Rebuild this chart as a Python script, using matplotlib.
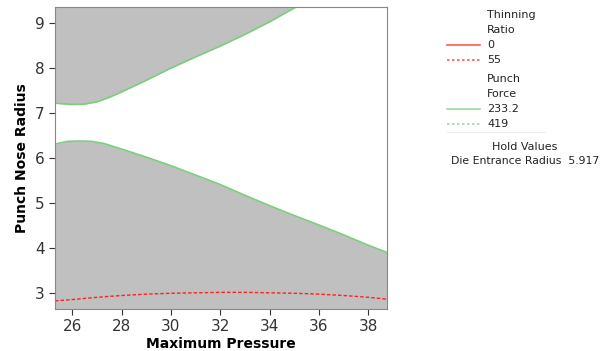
import matplotlib
matplotlib.use('Agg')
import matplotlib.pyplot as plt
from matplotlib.lines import Line2D

# contour boundaries
upper_x = [25.3, 26.0, 26.5, 27.0, 27.5, 28.0, 29.0, 30.0, 31.0, 32.0, 33.0, 34.0, 35.07]
upper_y = [7.22, 7.19, 7.20, 7.25, 7.35, 7.47, 7.73, 8.00, 8.25, 8.49, 8.75, 9.03, 9.36]

lower_x = [25.3, 25.8, 26.3, 26.8, 27.3, 28.0, 29.0, 30.0, 31.0, 32.0, 33.0, 34.0, 35.0, 36.0, 37.0, 38.0, 38.75]
lower_y = [6.31, 6.37, 6.38, 6.37, 6.32, 6.20, 6.02, 5.83, 5.62, 5.41, 5.17, 4.94, 4.72, 4.51, 4.29, 4.06, 3.90]

red_x = [25.3, 26.0, 27.0, 28.0, 29.0, 30.0, 31.0, 32.0, 33.0, 34.0, 35.0, 36.0, 37.0, 38.0, 38.75]
red_y = [2.82, 2.85, 2.90, 2.94, 2.97, 2.99, 3.00, 3.01, 3.01, 3.00, 2.99, 2.97, 2.94, 2.90, 2.86]

xlim = (25.3, 38.76)
ylim = (2.64, 9.36)
xticks = [26, 28, 30, 32, 34, 36, 38]
yticks = [3, 4, 5, 6, 7, 8, 9]

legend_groups = [(["Thinning", "Ratio"], ["0", "55"]), (["Punch", "Force"], ["233.2", "419"])]
hold_name = "Die Entrance Radius"
hold_value = "5.917"

gray = '#c0c0c0'
green = '#7ccf7c'
red = '#ff2020'

fig = plt.figure(figsize=(6.06, 3.51), dpi=100)
ax = fig.add_axes([0.0908, 0.1197, 0.5478, 0.8603])

ax.fill_between(upper_x, upper_y, ylim[1], color=gray, lw=0)
ax.plot(upper_x, upper_y, color=green, lw=1.2)
ax.fill_between(lower_x, ylim[0], lower_y, color=gray, lw=0)
ax.plot(lower_x, lower_y, color=green, lw=1.2)
ax.plot(red_x, red_y, color=red, lw=1.0, ls=(0, (2.5, 1.5)))

ax.set_xlim(*xlim)
ax.set_ylim(*ylim)
ax.set_xticks(xticks)
ax.set_yticks(yticks)
ax.tick_params(labelsize=11, colors='#333333', length=4, width=0.8)
for s in ax.spines.values():
    s.set_color('#888888')
    s.set_linewidth(0.8)

ax.set_xlabel("Maximum Pressure", fontsize=10, fontweight='bold', labelpad=2)
ax.set_ylabel("Punch Nose Radius", fontsize=10, fontweight='bold', labelpad=4)

# legend drawn by hand
W, H = 606.0, 351.0
tx = 487 / W
lx0, lx1 = 447 / W, 480 / W
colors = [red, green]
y = 15
for (title, vals), c in zip(legend_groups, colors):
    for t in title:
        fig.text(tx, 1 - y / H, t, fontsize=8, va='center', color='#222222')
        y += 15
    for i, v in enumerate(vals):
        ls = '-' if i == 0 else (0, (1.5, 1.5))
        fig.add_artist(Line2D([lx0, lx1], [1 - y / H, 1 - y / H], color=c, lw=1.2, ls=ls, alpha=0.75))
        fig.text(tx, 1 - y / H, v, fontsize=8, va='center', color='#222222')
        y += 15
    y += 4

fig.add_artist(Line2D([447 / W, 545 / W], [1 - 132 / H, 1 - 132 / H], color='#eeeeee', lw=0.8))
fig.text(525 / W, 1 - 147 / H, "Hold Values", fontsize=8, ha='center', va='center', color='#222222')
fig.text(451 / W, 1 - 161 / H, hold_name + "  " + hold_value, fontsize=7.8, ha='left', va='center', color='#222222')

fig.savefig("out.png", dpi=100)
